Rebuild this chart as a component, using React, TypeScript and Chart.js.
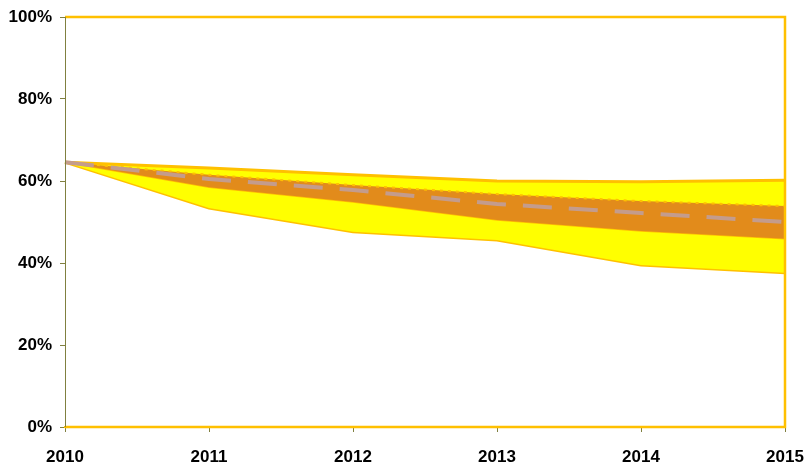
import React, { useEffect, useRef } from "react";
import { Chart, registerables } from "chart.js";

Chart.register(...registerables);

const years = ["2010", "2011", "2012", "2013", "2014", "2015"];
const outerUpper = [64.6, 63.2, 61.5, 60.0, 59.8, 60.2];
const outerLower = [64.6, 53.4, 47.6, 45.6, 39.5, 37.6];
const innerUpper = [64.6, 61.5, 59.0, 56.8, 55.1, 53.9];
const innerLower = [64.6, 58.5, 54.9, 50.5, 47.8, 45.9];
const median = [64.6, 60.5, 57.8, 54.4, 52.2, 50.0];

const GOLD = "#FFC000";
const YELLOW = "#FFFF00";
const ORANGE = "#E28B1B";
const OLIVE = "#808040";
const FONT = { family: "'Liberation Sans', Arial, sans-serif", size: 17, weight: "bold" as const };

const framePlugin = {
  id: "frame",
  afterDatasetsDraw(chart: any) {
    const { ctx, chartArea } = chart;
    const { left, right, top, bottom } = chartArea;
    ctx.save();
    ctx.strokeStyle = GOLD;
    ctx.lineWidth = 2.5;
    ctx.beginPath();
    ctx.moveTo(left, top);
    ctx.lineTo(right, top);
    ctx.lineTo(right, bottom);
    ctx.lineTo(left, bottom);
    ctx.stroke();
    ctx.strokeStyle = OLIVE;
    ctx.lineWidth = 1;
    ctx.beginPath();
    ctx.moveTo(left + 0.5, top);
    ctx.lineTo(left + 0.5, bottom);
    ctx.stroke();
    ctx.restore();
  },
};

export default function App() {
  const ref = useRef<HTMLCanvasElement>(null);
  useEffect(() => {
    document.body.style.margin = "0";
    const chart = new Chart(ref.current!, {
      type: "line",
      data: {
        labels: years,
        datasets: [
          {
            label: "Median",
            data: median,
            borderColor: "#C49C8C",
            borderWidth: 4,
            borderDash: [29, 17],
            pointRadius: 0,
            fill: false,
            order: 0,
          },
          {
            label: "Inner upper",
            data: innerUpper,
            borderColor: GOLD,
            borderWidth: 2,
            borderDash: [3, 5],
            pointRadius: 0,
            backgroundColor: ORANGE,
            fill: 2,
            order: 1,
          },
          {
            label: "Inner lower",
            data: innerLower,
            borderColor: GOLD,
            borderWidth: 1.5,
            pointRadius: 0,
            fill: false,
            order: 1,
          },
          {
            label: "Outer upper",
            data: outerUpper,
            borderColor: GOLD,
            borderWidth: 3,
            pointRadius: 0,
            backgroundColor: YELLOW,
            fill: 4,
            order: 2,
          },
          {
            label: "Outer lower",
            data: outerLower,
            borderColor: GOLD,
            borderWidth: 3,
            pointRadius: 0,
            fill: false,
            order: 2,
          },
        ],
      },
      options: {
        responsive: false,
        animation: false,
        layout: { padding: { top: 17, right: 21, left: 0, bottom: 0 } },
        plugins: { legend: { display: false }, tooltip: { enabled: false } },
        elements: { line: { tension: 0 } },
        scales: {
          x: {
            offset: false,
            grid: { drawOnChartArea: false, drawTicks: true, tickLength: 5, color: OLIVE },
            border: { color: GOLD, width: 2 },
            ticks: { color: "#000", font: FONT, padding: 15, maxRotation: 0 },
            afterFit: (s: any) => {
              s.height = 36;
              s.paddingLeft = 0;
              s.paddingRight = 0;
            },
          },
          y: {
            min: 0,
            max: 100,
            grid: { drawOnChartArea: false, drawTicks: true, tickLength: 5, color: OLIVE },
            border: { color: OLIVE, width: 1 },
            ticks: {
              stepSize: 20,
              color: "#000",
              font: FONT,
              padding: 8,
              callback: (v: any) => v + "%",
            },
            afterFit: (s: any) => {
              s.width = 65;
              s.paddingTop = 0;
              s.paddingBottom = 0;
            },
          },
        },
      },
      plugins: [framePlugin],
    });
    return () => chart.destroy();
  }, []);
  return (
    <div style={{ width: 806, height: 463 }}>
      <canvas ref={ref} width={806} height={463} style={{ display: "block" }} />
    </div>
  );
}
